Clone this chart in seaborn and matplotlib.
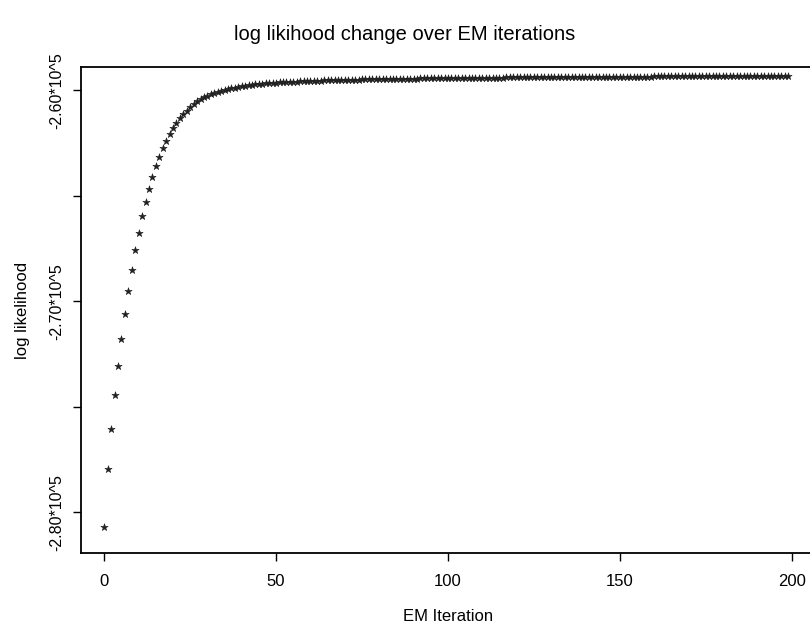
import matplotlib
matplotlib.use('Agg')
import matplotlib.pyplot as plt
import numpy as np
import pandas as pd
import seaborn as sns

# Log likelihood per EM iteration
iterations = list(range(200))
log_likelihood = [
    -280682, -277948, -276052, -274441, -273066, -271787, -270602, -269512, -268517, -267569,
    -266749, -265943, -265294, -264664, -264095, -263588, -263161, -262735, -262389, -262057,
    -261773, -261536, -261327, -261137, -260967, -260810, -260660, -260535, -260430, -260340,
    -260262, -260195, -260135, -260080, -260030, -259985, -259944, -259907, -259873, -259842,
    -259814, -259788, -259765, -259744, -259725, -259708, -259692, -259678, -259665, -259653,
    -259642, -259632, -259622, -259613, -259604, -259596, -259588, -259581, -259574, -259567,
    -259561, -259555, -259549, -259543, -259538, -259533, -259528, -259523, -259518, -259514,
    -259510, -259506, -259502, -259498, -259494, -259491, -259487, -259484, -259481, -259478,
    -259475, -259472, -259469, -259466, -259463, -259461, -259458, -259456, -259453, -259451,
    -259449, -259446, -259444, -259442, -259440, -259438, -259436, -259434, -259432, -259430,
    -259428, -259426, -259424, -259422, -259420, -259418, -259416, -259414, -259412, -259410,
    -259409, -259407, -259405, -259404, -259402, -259400, -259399, -259397, -259396, -259394,
    -259393, -259391, -259390, -259388, -259387, -259386, -259384, -259383, -259382, -259380,
    -259379, -259378, -259377, -259375, -259374, -259373, -259372, -259371, -259370, -259369,
    -259368, -259367, -259366, -259365, -259364, -259363, -259362, -259361, -259360, -259359,
    -259358, -259357, -259356, -259356, -259355, -259354, -259353, -259352, -259352, -259351,
    -259350, -259349, -259349, -259348, -259347, -259347, -259346, -259345, -259345, -259344,
    -259344, -259343, -259342, -259342, -259341, -259341, -259340, -259340, -259339, -259339,
    -259338, -259338, -259337, -259337, -259336, -259336, -259335, -259335, -259335, -259334,
    -259334, -259333, -259333, -259333, -259332, -259332, -259332, -259331, -259331, -259331,
]
x_ticks = [0, 50, 100, 150, 200]
y_ticks = [-280000, -275000, -270000, -265000, -260000]
y_tick_labels = ['-2.80*10^5', '', '-2.70*10^5', '', '-2.60*10^5']

df = pd.DataFrame({'iteration': iterations, 'loglik': log_likelihood})

sns.set_theme(style='ticks')
plt.rcParams['font.family'] = ['Liberation Sans', 'DejaVu Sans']
plt.rcParams['text.color'] = 'black'
plt.rcParams['axes.labelcolor'] = 'black'

fig = plt.figure(figsize=(8.10, 6.28), dpi=100)
ax = fig.add_axes([0.0996, 0.119, 0.9074, 0.774])

sns.scatterplot(data=df, x='iteration', y='loglik', marker='*', s=30,
                color='#222222', edgecolor='#222222', linewidth=0.4, ax=ax)

ax.set_xlim(-6.87, 207)
ax.set_ylim(-281943, -258910)
ax.set_xticks(x_ticks)
ax.set_xticklabels([str(t) for t in x_ticks])
ax.set_yticks(y_ticks)
ax.set_yticklabels(y_tick_labels, rotation=90, va='center')

for side in ['top', 'right', 'bottom', 'left']:
    ax.spines[side].set_visible(True)
    ax.spines[side].set_color('black')
    ax.spines[side].set_linewidth(1.3)
ax.tick_params(axis='both', direction='out', length=6, width=1, color='black',
               labelsize=12, labelcolor='black')
ax.tick_params(axis='y', labelsize=11.5)
ax.tick_params(axis='x', pad=9)
ax.tick_params(axis='y', pad=6)

ax.set_xlabel('EM Iteration', fontsize=12, labelpad=14)
ax.set_ylabel('log likelihood', fontsize=12, labelpad=14)
fig.text(0.5, 0.945, 'log likihood change over EM iterations', ha='center', va='center',
         fontsize=14.5, color='black')

fig.savefig('out.png', dpi=100)
